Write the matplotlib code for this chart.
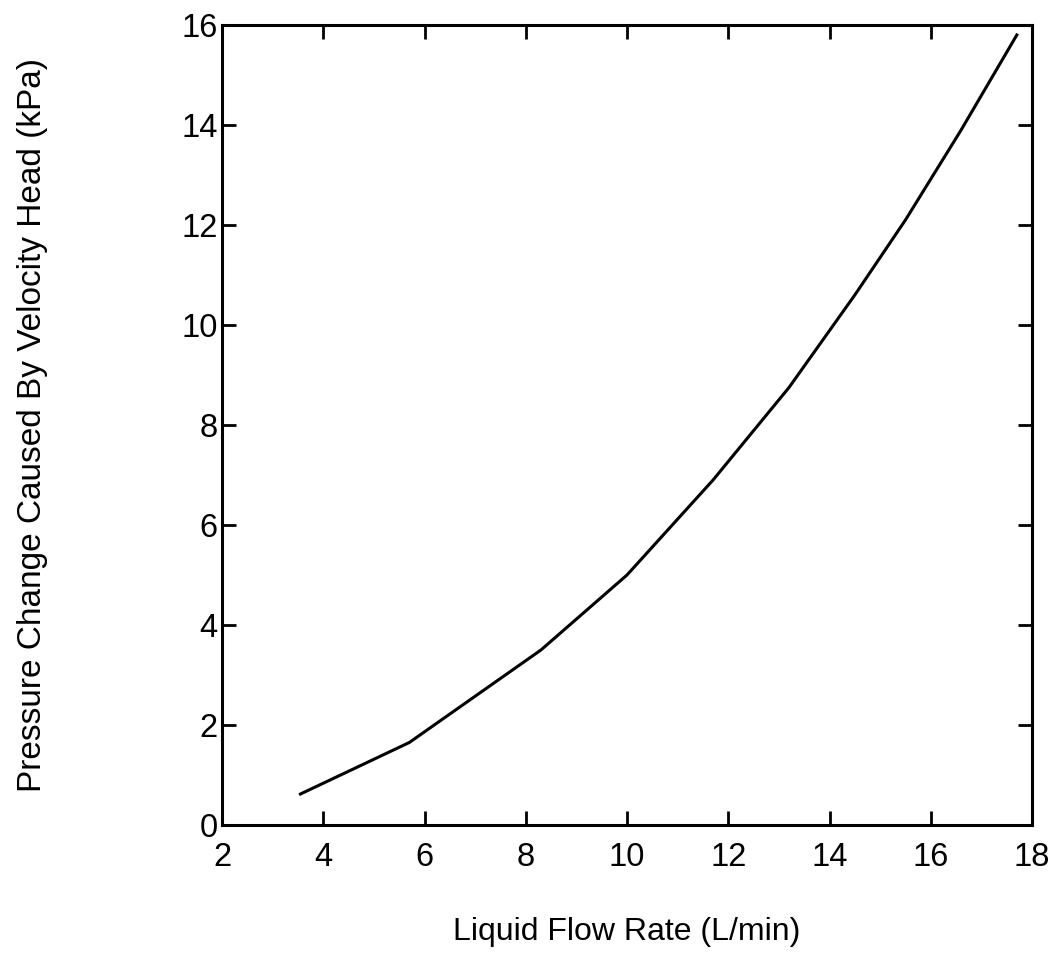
import matplotlib
matplotlib.use("Agg")
import matplotlib.pyplot as plt
from matplotlib import font_manager

flow_rate = [3.55, 5.7, 8.3, 10.0, 11.7, 13.2, 14.5, 15.5, 16.6, 17.7]
pressure_change = [0.62, 1.65, 3.5, 5.0, 6.9, 8.75, 10.6, 12.1, 13.9, 15.8]
x_ticks = [2, 4, 6, 8, 10, 12, 14, 16, 18]
y_ticks = [0, 2, 4, 6, 8, 10, 12, 14, 16]

plt.rcParams['font.family'] = ['Liberation Sans', 'DejaVu Sans']

names = {f.name for f in font_manager.fontManager.ttflist}
if 'Liberation Sans Narrow' in names:
    tick_family, tick_size = ['Liberation Sans Narrow', 'DejaVu Sans'], 24
else:
    tick_family, tick_size = ['Liberation Sans', 'DejaVu Sans'], 23.5

fig = plt.figure(figsize=(10.56, 9.57), dpi=100)
ax = fig.add_axes([222/1056, 1 - 825/957, (1032-222)/1056, (825-25)/957])
ax.plot(flow_rate, pressure_change, color='black', lw=2.2)
ax.set_xlim(2, 18)
ax.set_ylim(0, 16)
ax.set_xticks(x_ticks)
ax.set_yticks(y_ticks)
ax.tick_params(direction='in', length=10, width=2, top=True, right=True)
ax.tick_params(axis='y', pad=3)
ax.tick_params(axis='x', pad=12)
for lab in ax.get_xticklabels() + ax.get_yticklabels():
    lab.set_family(tick_family)
    lab.set_fontsize(tick_size)
for s in ax.spines.values():
    s.set_linewidth(2.2)
ax.set_xlabel('Liquid Flow Rate (L/min)', fontsize=23, labelpad=32)
ax.set_ylabel('Pressure Change Caused By Velocity Head (kPa)', fontsize=24, labelpad=96)
fig.savefig('out.png', dpi=100)
